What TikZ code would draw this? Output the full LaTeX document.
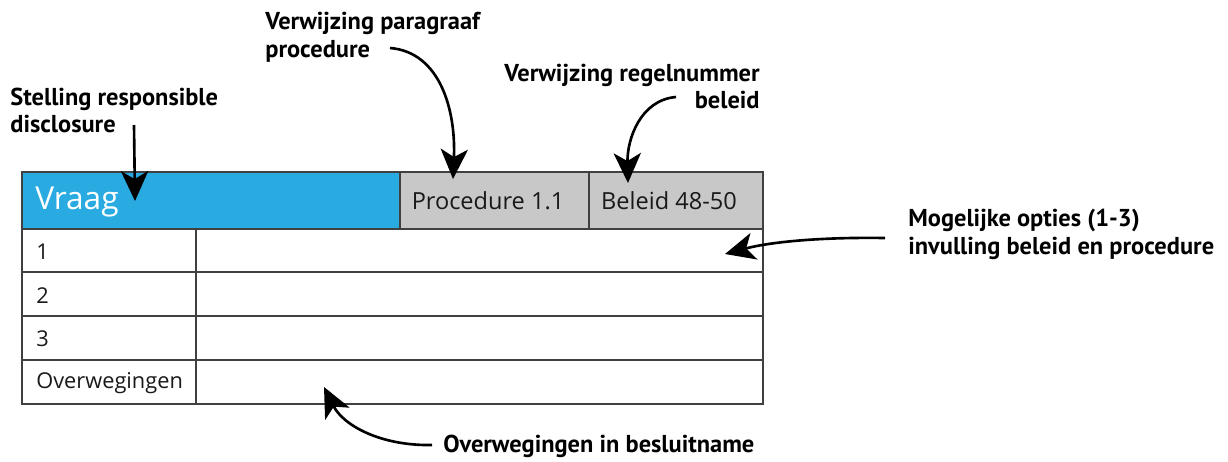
\documentclass[tikz,border=0pt]{standalone}
\usepackage{fontspec}
\setmainfont{Open Sans}
\newfontfamily\labfont{PT Sans}
\usetikzlibrary{arrows.meta}
\definecolor{vblue}{HTML}{29ABE2}
\definecolor{hgray}{HTML}{C8C8C8}
\definecolor{grid}{HTML}{404040}
\tikzset{
  cellline/.style={draw=grid, line width=0.75pt},
  lab/.style={font=\labfont\bfseries\fontsize{13.9}{16}\selectfont, inner sep=0pt, anchor=base west},
  labr/.style={lab, anchor=base east},
  celltxt/.style={font=\fontsize{13.4}{15}\selectfont, inner sep=0pt, text=black!90},
  rowtxt/.style={font=\fontsize{12.4}{14}\selectfont, inner sep=0pt, anchor=west, text=black!90},
  callout/.style={line width=1.5pt, -{Stealth[length=17pt, width=15.5pt, inset=4.5pt]}}
}
\begin{document}
\begin{tikzpicture}[x=0.02cm, y=-0.02cm]
\useasboundingbox (0,0) rectangle (1228,461);
% header cells
\fill[vblue] (22,172) rectangle (400,229);
\fill[hgray] (400,172) rectangle (589,229);
\fill[hgray] (589,172) rectangle (763,229);
% grid
\draw[cellline] (22,172) rectangle (763,404);
\draw[cellline] (400,172) -- (400,229);
\draw[cellline] (589,172) -- (589,229);
\foreach \yy in {229,272,316,360} \draw[cellline] (22,\yy) -- (763,\yy);
\draw[cellline] (196,229) -- (196,404);
% cell texts
\node[font=\fontsize{18}{20}\selectfont, text=white, inner sep=0pt, anchor=west] (vraag) at (35,202) {Vraag};
\node[celltxt] (proc) at (488,201) {Procedure 1.1};
\node[celltxt] (bel) at (669,201) {Beleid 48-50};
\node[rowtxt] (r1) at (36,252) {1};
\node[rowtxt] (r2) at (36,296) {2};
\node[rowtxt] (r3) at (36,339) {3};
\node[rowtxt] (r4) at (36,383) {Overwegingen};
% labels
\node[lab] (lstel1) at (10,105) {Stelling responsible};
\node[lab] (lstel2) at (10,132) {disclosure};
\node[lab] (lpar1) at (265,29) {Verwijzing paragraaf};
\node[lab] (lpar2) at (265,57) {procedure};
\node[labr] (lreg1) at (760,81) {Verwijzing regelnummer};
\node[labr] (lreg2) at (760,108) {beleid};
\node[lab] (lopt1) at (908,226) {Mogelijke opties (1-3)};
\node[lab] (lopt2) at (908,254) {invulling beleid en procedure};
\node[lab] (lover) at (443,452) {Overwegingen in besluitname};
% arrow end points
\coordinate (sStel) at (134,125);
\coordinate (tStel) at (135,201);
\coordinate (sPar) at (390,48);
\coordinate (tPar) at (453,179);
\coordinate (sReg) at (676,97);
\coordinate (tReg) at (628,183);
\coordinate (sOpt) at (885,238);
\coordinate (tOpt) at (725,254);
\coordinate (sOver) at (432,445);
\coordinate (tOver) at (324,387);
% arrows
\draw[callout] (sStel) -- (tStel);
\draw[callout] (sPar) .. controls (440,52) and (456,110) .. (tPar);
\draw[callout] (sReg) .. controls (640,100) and (627,140) .. (tReg);
\draw[callout] (sOpt) .. controls (820,237) and (770,242) .. (tOpt);
\draw[callout] (sOver) .. controls (380,446) and (343,425) .. (tOver);
\end{tikzpicture}
\end{document}
